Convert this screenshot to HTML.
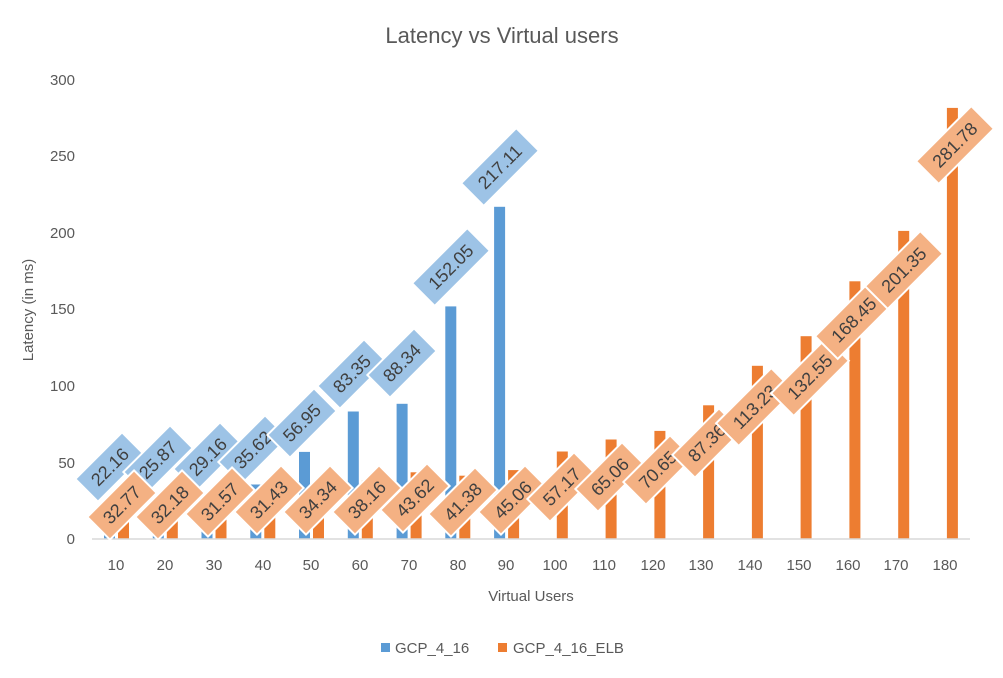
<!DOCTYPE html>
<html><head><meta charset="utf-8"><style>
body{margin:0;background:#fff}
svg{display:block;font-family:"Liberation Sans",sans-serif}
.t{fill:#595959;font-size:15px}
.l{fill:#404040;font-size:18px}
.l rect{stroke:#fff;stroke-width:2}
</style></head><body>
<svg width="1003" height="678" viewBox="0 0 1003 678">
<defs>
<rect id="b5" x="-33" y="-16" width="66" height="32"/>
<rect id="b6" x="-39" y="-16" width="78" height="32"/>
</defs>
<rect width="1003" height="678" fill="#fff"/>
<text x="502" y="43" text-anchor="middle" font-size="22" fill="#595959">Latency vs Virtual users</text>
<g class="t" text-anchor="end">
<text x="75" y="544">0</text><text x="75" y="468">50</text><text x="75" y="391">100</text>
<text x="75" y="314">150</text><text x="75" y="238">200</text><text x="75" y="161">250</text><text x="75" y="85">300</text>
</g>
<text class="t" transform="translate(33,310) rotate(-90)" text-anchor="middle" font-size="16">Latency (in ms)</text>
<g fill="#5B9BD5">
<rect x="104" y="505.1" width="11" height="33.9"/>
<rect x="152.8" y="499.4" width="11" height="39.6"/>
<rect x="201.5" y="494.4" width="11" height="44.6"/>
<rect x="250.3" y="484.5" width="11" height="54.5"/>
<rect x="299" y="451.9" width="11" height="87.1"/>
<rect x="347.8" y="411.5" width="11" height="127.5"/>
<rect x="396.6" y="403.8" width="11" height="135.2"/>
<rect x="445.3" y="306.4" width="11" height="232.6"/>
<rect x="494.1" y="206.8" width="11" height="332.2"/>
</g>
<g fill="#ED7D31">
<rect x="118" y="488.9" width="11" height="50.1"/>
<rect x="166.8" y="489.8" width="11" height="49.2"/>
<rect x="215.5" y="490.7" width="11" height="48.3"/>
<rect x="264.3" y="490.9" width="11" height="48.1"/>
<rect x="313" y="486.5" width="11" height="52.5"/>
<rect x="361.8" y="480.6" width="11" height="58.4"/>
<rect x="410.6" y="472.3" width="11" height="66.7"/>
<rect x="459.3" y="475.7" width="11" height="63.3"/>
<rect x="508.1" y="470.1" width="11" height="68.9"/>
<rect x="556.8" y="451.5" width="11" height="87.5"/>
<rect x="605.6" y="439.5" width="11" height="99.5"/>
<rect x="654.4" y="430.9" width="11" height="108.1"/>
<rect x="703.1" y="405.3" width="11" height="133.7"/>
<rect x="751.9" y="365.8" width="11" height="173.2"/>
<rect x="800.6" y="336.2" width="11" height="202.8"/>
<rect x="849.4" y="281.3" width="11" height="257.7"/>
<rect x="898.2" y="230.9" width="11" height="308.1"/>
<rect x="946.9" y="107.9" width="11" height="431.1"/>
</g>
<line x1="92" y1="539" x2="970" y2="539" stroke="#D9D9D9" stroke-width="1.5"/>
<g class="t" text-anchor="middle">
<text x="116" y="570">10</text><text x="165" y="570">20</text><text x="214" y="570">30</text><text x="263" y="570">40</text>
<text x="311" y="570">50</text><text x="360" y="570">60</text><text x="409" y="570">70</text><text x="458" y="570">80</text>
<text x="506" y="570">90</text><text x="555" y="570">100</text><text x="604" y="570">110</text><text x="653" y="570">120</text>
<text x="701" y="570">130</text><text x="750" y="570">140</text><text x="799" y="570">150</text><text x="848" y="570">160</text>
<text x="896" y="570">170</text><text x="945" y="570">180</text>
</g>
<text class="t" x="531" y="601" text-anchor="middle" font-size="16">Virtual Users</text>
<g class="l" text-anchor="middle">
<g transform="translate(110,467) rotate(-45)"><rect x="-33" y="-16" width="66" height="32" fill="#9DC3E6"/><text y="6">22.16</text></g>
<g transform="translate(158,460) rotate(-45)"><rect x="-33" y="-16" width="66" height="32" fill="#9DC3E6"/><text y="6">25.87</text></g>
<g transform="translate(208,457) rotate(-45)"><rect x="-33" y="-16" width="66" height="32" fill="#9DC3E6"/><text y="6">29.16</text></g>
<g transform="translate(253,450) rotate(-45)"><rect x="-33" y="-16" width="66" height="32" fill="#9DC3E6"/><text y="6">35.62</text></g>
<g transform="translate(302,423) rotate(-45)"><rect x="-33" y="-16" width="66" height="32" fill="#9DC3E6"/><text y="6">56.95</text></g>
<g transform="translate(352,374) rotate(-45)"><rect x="-33" y="-16" width="66" height="32" fill="#9DC3E6"/><text y="6">83.35</text></g>
<g transform="translate(402,363) rotate(-45)"><rect x="-33" y="-16" width="66" height="32" fill="#9DC3E6"/><text y="6">88.34</text></g>
<g transform="translate(451,267) rotate(-45)"><rect x="-39" y="-16" width="78" height="32" fill="#9DC3E6"/><text y="6">152.05</text></g>
<g transform="translate(500,167) rotate(-45)"><rect x="-39" y="-16" width="78" height="32" fill="#9DC3E6"/><text y="6">217.11</text></g>

<g transform="translate(122,505) rotate(-45)"><rect x="-33" y="-16" width="66" height="32" fill="#F4B183"/><text y="6">32.77</text></g>
<g transform="translate(170,505) rotate(-45)"><rect x="-33" y="-16" width="66" height="32" fill="#F4B183"/><text y="6">32.18</text></g>
<g transform="translate(220,502) rotate(-45)"><rect x="-33" y="-16" width="66" height="32" fill="#F4B183"/><text y="6">31.57</text></g>
<g transform="translate(269,500) rotate(-45)"><rect x="-33" y="-16" width="66" height="32" fill="#F4B183"/><text y="6">31.43</text></g>
<g transform="translate(318,500) rotate(-45)"><rect x="-33" y="-16" width="66" height="32" fill="#F4B183"/><text y="6">34.34</text></g>
<g transform="translate(367,500) rotate(-45)"><rect x="-33" y="-16" width="66" height="32" fill="#F4B183"/><text y="6">38.16</text></g>
<g transform="translate(415,498) rotate(-45)"><rect x="-33" y="-16" width="66" height="32" fill="#F4B183"/><text y="6">43.62</text></g>
<g transform="translate(463,502) rotate(-45)"><rect x="-33" y="-16" width="66" height="32" fill="#F4B183"/><text y="6">41.38</text></g>
<g transform="translate(513,500) rotate(-45)"><rect x="-33" y="-16" width="66" height="32" fill="#F4B183"/><text y="6">45.06</text></g>
<g transform="translate(562,487) rotate(-45)"><rect x="-33" y="-16" width="66" height="32" fill="#F4B183"/><text y="6">57.17</text></g>
<g transform="translate(610,477) rotate(-45)"><rect x="-33" y="-16" width="66" height="32" fill="#F4B183"/><text y="6">65.06</text></g>
<g transform="translate(658,470) rotate(-45)"><rect x="-33" y="-16" width="66" height="32" fill="#F4B183"/><text y="6">70.65</text></g>
<g transform="translate(707,443) rotate(-45)"><rect x="-33" y="-16" width="66" height="32" fill="#F4B183"/><text y="6">87.36</text></g>
<g transform="translate(755,407) rotate(-45)"><rect x="-39" y="-16" width="78" height="32" fill="#F4B183"/><text y="6">113.23</text></g>
<g transform="translate(810,377) rotate(-45)"><rect x="-39" y="-16" width="78" height="32" fill="#F4B183"/><text y="6">132.55</text></g>
<g transform="translate(854,320) rotate(-45)"><rect x="-39" y="-16" width="78" height="32" fill="#F4B183"/><text y="6">168.45</text></g>
<g transform="translate(904,270) rotate(-45)"><rect x="-39" y="-16" width="78" height="32" fill="#F4B183"/><text y="6">201.35</text></g>
<g transform="translate(955,145) rotate(-45)"><rect x="-39" y="-16" width="78" height="32" fill="#F4B183"/><text y="6">281.78</text></g>
</g>
<rect x="381" y="643" width="9" height="9" fill="#5B9BD5"/>
<text class="t" x="395" y="653">GCP_4_16</text>
<rect x="498" y="643" width="9" height="9" fill="#ED7D31"/>
<text class="t" x="513" y="653">GCP_4_16_ELB</text>
</svg>
</body></html>
